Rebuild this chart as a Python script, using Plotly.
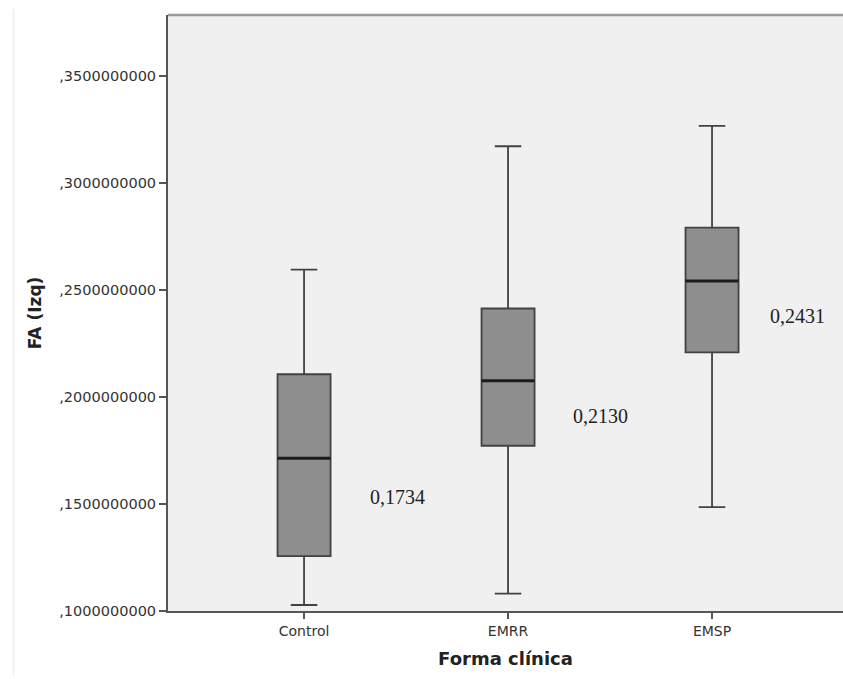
import plotly.graph_objects as go

# Groups and box-plot summary statistics of FA (left side)
groups = ["Control", "EMRR", "EMSP"]
lower_whisker = [0.1028, 0.1081, 0.1485]
q1 = [0.1256, 0.1772, 0.2208]
median = [0.1714, 0.2075, 0.2542]
q3 = [0.2106, 0.2413, 0.2791]
upper_whisker = [0.2595, 0.3171, 0.3266]

# Mean value written beside each box, and where the text sits
mean_labels = ["0,1734", "0,2130", "0,2431"]
label_x_offset = [0.456, 0.451, 0.417]
label_y = [0.1531, 0.1913, 0.2379]

# Y-axis ticks
y_ticks = [0.10, 0.15, 0.20, 0.25, 0.30, 0.35]
y_tick_text = [",1000000000", ",1500000000", ",2000000000",
               ",2500000000", ",3000000000", ",3500000000"]

pos = list(range(len(groups)))
box_width = 0.26

fig = go.Figure()

fig.add_trace(go.Box(
    x=pos,
    q1=q1,
    median=median,
    q3=q3,
    lowerfence=lower_whisker,
    upperfence=upper_whisker,
    width=box_width,
    whiskerwidth=0.5,
    fillcolor="#8e8e8e",
    line=dict(color="#424242", width=1.8),
    boxpoints=False,
    showlegend=False,
    hoverinfo="skip",
))

# Heavier median bars drawn on top of the boxes
for p, m in zip(pos, median):
    fig.add_trace(go.Scatter(
        x=[p - box_width / 2, p + box_width / 2],
        y=[m, m],
        mode="lines",
        line=dict(color="#1c1c1c", width=3),
        showlegend=False,
        hoverinfo="skip",
    ))

for p, dx, y, t in zip(pos, label_x_offset, label_y, mean_labels):
    fig.add_annotation(
        x=p + dx, y=y, text=t, showarrow=False,
        xref="x", yref="y",
        font=dict(family="Liberation Serif", size=20, color="#222222"),
    )

# Upper frame line of the plot area
fig.add_shape(type="line", xref="paper", yref="paper",
              x0=0, x1=1, y0=1, y1=1,
              line=dict(color="#9a9a9a", width=2.5))

# Faint outer border of the chart panel
fig.add_shape(type="line", xref="paper", yref="paper",
              x0=-0.229, x1=-0.229, y0=-0.11, y1=1.01,
              line=dict(color="#eeeeee", width=1.5))

fig.update_layout(
    width=843,
    height=679,
    margin=dict(l=168, r=0, t=15, b=68),
    paper_bgcolor="white",
    plot_bgcolor="#f0f0f0",
    font=dict(family="DejaVu Sans", color="#333333"),
    xaxis=dict(
        range=[-0.667, 2.642],
        tickmode="array",
        tickvals=pos,
        ticktext=groups,
        ticks="outside",
        ticklen=6,
        tickwidth=1.5,
        tickcolor="#555555",
        tickfont=dict(size=14, color="#333333"),
        showgrid=False,
        zeroline=False,
        showline=True,
        linecolor="#555555",
        linewidth=2,
        title=dict(text="<b>Forma clínica</b>",
                   font=dict(size=18, color="#222222"), standoff=15),
    ),
    yaxis=dict(
        range=[0.10, 0.3784],
        tickmode="array",
        tickvals=y_ticks,
        ticktext=y_tick_text,
        ticks="outside",
        ticklen=7,
        tickwidth=1.5,
        tickcolor="#555555",
        tickfont=dict(size=14.5, color="#333333"),
        showgrid=False,
        zeroline=False,
        showline=True,
        linecolor="#555555",
        linewidth=2,
        title=dict(text="<b>FA (Izq)</b>",
                   font=dict(size=17, color="#222222"), standoff=13),
    ),
)

fig.write_html("out.html")
